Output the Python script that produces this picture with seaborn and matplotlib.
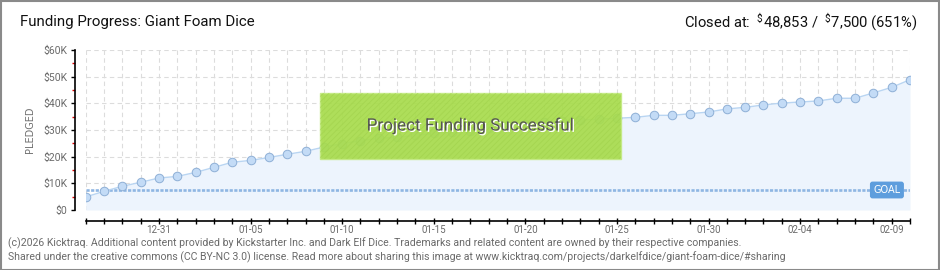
import numpy as np
import pandas as pd
import matplotlib
matplotlib.use("Agg")
import matplotlib.pyplot as plt
import matplotlib.patheffects as pe
from matplotlib.patches import Rectangle
from matplotlib.ticker import MultipleLocator
import seaborn as sns

# ---------------- data ----------------
title = "Funding Progress: Giant Foam Dice"
start_date = "2025-12-27"
pledged = [4900, 7000, 8900, 10400, 12000, 12600, 14100, 16000, 17900, 18600,
           19700, 20900, 22000, 23600, 24900, 26000, 26900, 27200, 28000, 28700,
           29400, 29800, 30600, 31400, 32200, 32900, 33300, 33700, 34100, 34400,
           34750, 35500, 35500, 36100, 36750, 37900, 38500, 39400, 40100, 40500,
           40900, 41900, 41900, 43900, 46000, 48853]
goal = 7500
y_ticks = [0, 10000, 20000, 30000, 40000, 50000, 60000]
y_labels = ["$0", "$10K", "$20K", "$30K", "$40K", "$50K", "$60K"]
footer1 = ("(c)2026 Kicktraq. Additional content provided by Kickstarter Inc. and Dark Elf Dice. "
           "Trademarks and related content are owned by their respective companies.")
footer2 = ("Shared under the creative commons (CC BY-NC 3.0) license. Read more about sharing this "
           "image at www.kicktraq.com/projects/darkelfdice/giant-foam-dice/#sharing")

dates = pd.date_range(start_date, periods=len(pledged), freq="D")
df = pd.DataFrame({"date": dates, "pledged": pledged})

# ---------------- style ----------------
sns.set_theme(style="white")
plt.rcParams["font.family"] = ["Roboto", "DejaVu Sans"]
plt.rcParams["mathtext.fontset"] = "custom"
plt.rcParams["mathtext.rm"] = "Roboto"
plt.rcParams["mathtext.default"] = "regular"
plt.rcParams["hatch.linewidth"] = 0.6

W, H = 940, 270
fig = plt.figure(figsize=(W / 100, H / 100), dpi=100)
fig.patch.set_facecolor("white")

def fx(px):
    return px / W

def fy(py):
    return 1 - py / H

left_px, right_px, top_px, bot_px = 85.7, 910, 50, 210
ax = fig.add_axes([fx(left_px), fy(bot_px), fx(right_px - left_px), (bot_px - top_px) / H])
ax.set_facecolor("none")

# fill + line + markers
ax.fill_between(df["date"], 0, df["pledged"], color="#edf4fd", zorder=1, lw=0)
sns.lineplot(data=df, x="date", y="pledged", ax=ax, color="#b9d5f2", lw=1.0, zorder=3)
sns.scatterplot(data=df, x="date", y="pledged", ax=ax, s=38, color="#c3dbf6",
                edgecolor="#8eafd6", linewidth=0.7, zorder=4)

# goal line
ax.axhline(goal, color="#8fb6e3", lw=1.9, ls=(0, (1.2, 0.55)), zorder=2)
ax.text(0.972, goal, "GOAL", transform=ax.get_yaxis_transform(), ha="center", va="center",
        color="white", fontsize=7, fontfamily="DejaVu Sans", zorder=6,
        bbox=dict(boxstyle="round,pad=0.28,rounding_size=0.2", fc="#5d9ddd", ec="#5d9ddd"))

ax.set_xlim(dates[0], dates[-1])
ax.set_ylim(0, 60000)

# ticks
ax.set_yticks(y_ticks)
ax.set_yticklabels(y_labels)
ax.yaxis.set_minor_locator(MultipleLocator(5000))
ax.set_xticks(dates)
ax.set_xticklabels([d.strftime("%m-%d") if i % 5 == 4 else "" for i, d in enumerate(dates)])

ax.tick_params(axis="y", which="major", direction="out", length=3, width=1, color="black",
               labelsize=7.5, labelcolor="#6a6a6a", pad=2, left=True)
ax.tick_params(axis="y", which="minor", direction="out", length=2.5, width=1, color="#e00000", left=True)
ax.tick_params(axis="x", which="major", direction="inout", length=5, width=1, color="black",
               labelsize=7, labelcolor="#6a6a6a", pad=0, bottom=True)
for lab in ax.get_yticklabels() + ax.get_xticklabels():
    lab.set_fontfamily("DejaVu Sans")

ax.set_xlabel("")
ax.set_ylabel("PLEDGED", fontsize=7, color="#707070", labelpad=6, fontfamily="DejaVu Sans")

# grid
ax.grid(True, which="major", axis="both", color="#dcdcdc", ls=(0, (4, 3)), lw=0.8, zorder=0)
ax.set_axisbelow(True)

sns.despine(ax=ax, offset={"left": 8, "bottom": 8})
for s in ("left", "bottom"):
    ax.spines[s].set_color("black")
    ax.spines[s].set_linewidth(1.2)

# success banner (figure overlay)
bx0, by0, bx1, by1 = 320, 92.5, 620.5, 158.5
fig.patches.append(Rectangle((fx(bx0), fy(by1)), fx(bx1 - bx0), (by1 - by0) / H,
                             transform=fig.transFigure, fc="#a8dc4d", ec="#c4ea85", lw=1.0,
                             alpha=0.93, zorder=10))
fig.patches.append(Rectangle((fx(bx0), fy(by1)), fx(bx1 - bx0), (by1 - by0) / H,
                             transform=fig.transFigure, fc="none", ec="#9fd04a", lw=0,
                             hatch="//////", alpha=0.6, zorder=11))
fig.text(fx((bx0 + bx1) / 2), fy((by0 + by1) / 2), "Project Funding Successful",
         ha="center", va="center", fontsize=12.3, color="#555555", zorder=12,
         path_effects=[pe.SimplePatchShadow(offset=(1, -1), shadow_rgbFace="white", alpha=1.0),
                       pe.Normal()])

# header texts
fig.text(fx(20), fy(22), title, ha="left", va="center", fontsize=10.8, color="#111111")
fig.text(fx(917), fy(22), r"Closed at:  $^{\$}$48,853 /  $^{\$}$7,500 (651%)",
         ha="right", va="center", fontsize=10.6, color="#111111")

# footer
fig.text(fx(8), fy(243), footer1, ha="left", va="center", fontsize=7.55, color="#6a6a6a")
fig.text(fx(8), fy(257), footer2, ha="left", va="center", fontsize=7.55, color="#6a6a6a")

# outer frame
fig.patches.append(Rectangle((0.5 / W, 0.5 / H), 1 - 1.5 / W, 1 - 1.5 / H, transform=fig.transFigure,
                             fc="none", ec="#8a8a8a", lw=1.5, zorder=20))

fig.savefig("out.png", dpi=100)
